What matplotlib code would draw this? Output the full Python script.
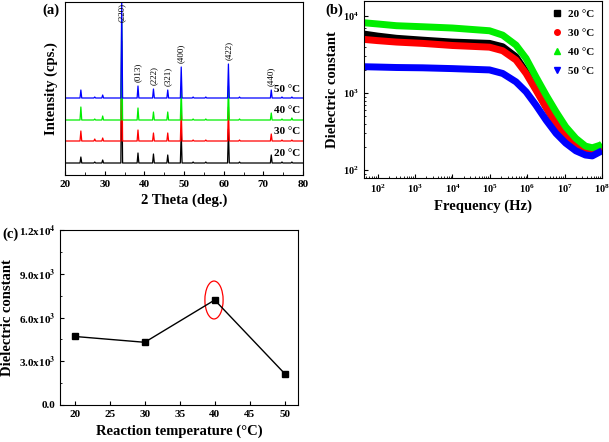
import numpy as np
import matplotlib
matplotlib.use('Agg')
import matplotlib.pyplot as plt
from matplotlib.lines import Line2D
from matplotlib.patches import Ellipse
from matplotlib.ticker import MultipleLocator, FixedLocator

plt.rcParams['font.family'] = ['Liberation Serif', 'DejaVu Serif']
plt.rcParams['font.weight'] = 'bold'
plt.rcParams['axes.labelweight'] = 'bold'
plt.rcParams['mathtext.fontset'] = 'stix'
plt.rcParams['mathtext.default'] = 'bf'
plt.rcParams['xtick.direction'] = 'in'
plt.rcParams['ytick.direction'] = 'in'

# ---------------- (a) XRD data ----------------
temps = ['20 °C', '30 °C', '40 °C', '50 °C']
xrd_colors = ['black', 'red', '#00ee00', 'blue']
xrd_offsets = [0, 22, 43, 65]
peak_pos = [24.0, 27.5, 29.5, 34.3, 38.4, 42.3, 45.9, 49.3, 52.3, 55.5, 61.2, 64.0, 72.0, 74.7, 77.2]
peak_20 = [6, 1, 3, 100, 10, 9, 8, 31, 1, 1, 34, 1, 8, 1, 1]
peak_30 = [10, 2, 3, 100, 11, 8, 8, 31, 1, 1, 34, 1, 7, 1, 1]
peak_40 = [13, 1, 4, 100, 12, 8, 8, 31, 1, 1, 34, 1, 7, 1, 2]
peak_50 = [8, 1, 3, 98, 12, 9, 8, 31, 1, 1, 34, 1, 8, 1, 1]
xrd_heights = [peak_20, peak_30, peak_40, peak_50]
hkl_pos = [34.3, 38.4, 42.3, 45.9, 49.3, 61.2, 72.0]
hkl_labels = ['(220)', '(013)', '(222)', '(321)', '(400)', '(422)', '(440)']

# ---------------- (b) dielectric vs frequency ----------------
freq = [43, 100, 316, 1.6e3, 1e4, 9.8e4, 2.2e5, 5.0e5, 9.3e5, 1.7e6, 3.2e6,
        5.9e6, 1.07e7, 2.0e7, 3.6e7, 5.5e7, 9.1e7, 1e8]
eps_20 = [5840, 5500, 5150, 4870, 4600, 4420, 4000, 2960, 1890, 1150, 660,
          400, 270, 211, 182, 177, 190, 195]
eps_30 = [4980, 4800, 4600, 4420, 4150, 3950, 3550, 2690, 1800, 1100, 650,
          400, 270, 211, 182, 177, 190, 195]
eps_40 = [8190, 7900, 7500, 7270, 7000, 6450, 5660, 4200, 2820, 1630, 940,
          571, 365, 258, 205, 195, 211, 218]
eps_50 = [2200, 2180, 2150, 2130, 2080, 2000, 1800, 1400, 1040, 700, 445,
          300, 224, 178, 157, 153, 174, 178]
eps_series = [eps_20, eps_30, eps_40, eps_50]
eps_markers = ['s', 'o', '^', 'v']

# ---------------- (c) dielectric vs reaction temperature ----------------
react_temp = [20, 30, 40, 50]
react_eps = [4700, 4300, 7200, 2150]
c_yticks = [0, 3000, 6000, 9000, 12000]
c_ylabels = ['0.0', r'3.0x10$^3$', r'6.0x10$^3$', r'9.0x10$^3$', r'1.2x10$^4$']

fig = plt.figure(figsize=(6.09, 4.42), dpi=100)
W, H = 609, 442


def add_ax(l, t, r, b, **kw):
    return fig.add_axes([l / W, 1 - b / H, (r - l) / W, (b - t) / H], **kw)


# ---- panel (a)
ax1 = add_ax(65, 2, 303, 175)
w = 0.22
for heights, off, col, lab in zip(xrd_heights, xrd_offsets, xrd_colors, temps):
    xs = [20.0]
    ys = [off]
    for p, h in zip(peak_pos, heights):
        xs += [p - w, p, p + w]
        ys += [off, off + h, off]
    xs.append(80.0)
    ys.append(off)
    ax1.plot(xs, ys, color=col, lw=0.9)
    ax1.text(79.3, off + 9, lab, ha='right', va='center', fontsize=8)
top_heights = dict(zip(peak_pos, peak_50))
for p, lab in zip(hkl_pos, hkl_labels):
    yt = xrd_offsets[-1] + top_heights[p] + 4
    if yt > 140:
        ax1.text(p, 160, lab, rotation=90, ha='center', va='top', fontsize=6.5, fontweight='normal')
    else:
        ax1.text(p, yt, lab, rotation=90, ha='center', va='bottom', fontsize=6.5, fontweight='normal')
ax1.set_xlim(20, 80)
ax1.set_ylim(-12, 161)
ax1.set_yticks([])
ax1.xaxis.set_major_locator(MultipleLocator(10))
ax1.xaxis.set_minor_locator(MultipleLocator(5))
ax1.tick_params(labelsize=8, length=3)
ax1.set_xlabel('2 Theta (deg.)', fontsize=10.5, labelpad=3)
ax1.set_ylabel('Intensity (cps.)', fontsize=10.5, labelpad=5)
fig.text(42 / W, 1 - 10 / H, '(a)', fontsize=10.5, va='center')

# ---- panel (b)
ax2 = add_ax(364, 1, 602, 178)
handles = []
for eps, col, m, lab in zip(eps_series, xrd_colors, eps_markers, temps):
    ax2.plot(freq, eps, color=col, lw=5, solid_capstyle='butt', solid_joinstyle='round')
    handles.append(Line2D([], [], color=col, marker=m, ls='none', markersize=4, label=lab))
ax2.set_xscale('log')
ax2.set_yscale('log')
ax2.set_xlim(43, 1e8)
ax2.set_ylim(79, 15700)
ax2.xaxis.set_major_locator(FixedLocator([1e2, 1e3, 1e4, 1e5, 1e6, 1e7, 1e8]))
ax2.tick_params(labelsize=7.5, length=3)
ax2.tick_params(which='minor', length=1.5)
ax2.set_xlabel('Frequency (Hz)', fontsize=10.5, labelpad=3)
ax2.set_ylabel('Dielectric constant', fontsize=10.5, labelpad=3)
ax2.legend(handles=handles, loc='upper right', frameon=False, fontsize=8,
           handlelength=1.0, handletextpad=0.5, labelspacing=0.85, borderaxespad=0.3)
fig.text(325 / W, 1 - 10 / H, '(b)', fontsize=10.5, va='center')

# ---- panel (c)
ax3 = add_ax(60, 230, 298, 405)
ax3.plot(react_temp, react_eps, color='black', marker='s', markersize=4.5, lw=1)
ax3.add_patch(Ellipse((39.9, 7200), 2.6, 2600, fill=False, edgecolor='red', lw=0.9))
ax3.set_xlim(17.9, 51.9)
ax3.set_ylim(0, 12000)
ax3.set_yticks(c_yticks)
ax3.set_yticklabels(c_ylabels)
ax3.yaxis.set_minor_locator(MultipleLocator(1500))
ax3.xaxis.set_major_locator(MultipleLocator(5))
ax3.tick_params(labelsize=8, length=3)
ax3.tick_params(which='minor', length=1.5)
ax3.set_xlabel('Reaction temperature (°C)', fontsize=10.5, labelpad=4)
ax3.set_ylabel('Dielectric constant', fontsize=10.5, labelpad=3)
fig.text(2 / W, 1 - 234 / H, '(c)', fontsize=10.5, va='center')

fig.savefig('out.png', dpi=100)
